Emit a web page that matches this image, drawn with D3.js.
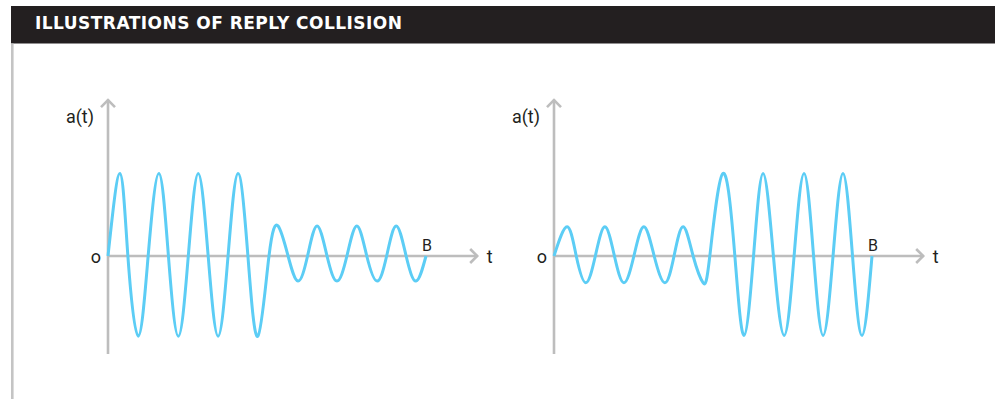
<!DOCTYPE html>
<html>
<head>
<meta charset="utf-8">
<script src="https://cdn.jsdelivr.net/npm/d3@7"></script>
<style>
  body { margin: 0; background: #fff; }
  svg { display: block; }
  .lbl { font-family: Roboto, "Open Sans", sans-serif; }
  .title { font-family: "DejaVu Sans", sans-serif; font-weight: 700; }
</style>
</head>
<body>
<svg id="chart" width="995" height="399"></svg>
<script>
const title = "ILLUSTRATIONS OF REPLY COLLISION";

// wave extrema and zero crossings: [t (cycles), amplitude]
const leftWave = [
  [0, 0], [0.3, 1.02], [0.5, 0], [0.76, -0.99], [1.01, 0], [1.28, 1.02], [1.52, 0], [1.77, -0.99],
  [2.02, 0], [2.27, 1.02], [2.52, 0], [2.77, -0.99], [3.02, 0], [3.27, 1.02], [3.52, 0], [3.77, -0.99],
  [4.05, 0], [4.28, 0.37], [4.53, 0], [4.78, -0.31], [5.02, 0], [5.26, 0.37], [5.51, 0], [5.76, -0.31],
  [6.01, 0], [6.26, 0.37], [6.51, 0], [6.77, -0.31], [7.01, 0], [7.25, 0.37], [7.5, 0], [7.75, -0.31],
  [8, 0]
];
const rightWave = [
  [0, 0], [0.33, 0.36], [0.56, 0], [0.8, -0.33], [1.04, 0], [1.28, 0.36], [1.52, 0], [1.76, -0.33],
  [2.01, 0], [2.26, 0.36], [2.52, 0], [2.79, -0.33], [3.02, 0], [3.25, 0.36], [3.5, 0], [3.75, -0.33],
  [3.92, 0], [4.25, 1.02], [4.55, 0], [4.78, -0.98], [5.02, 0], [5.26, 1.02], [5.52, 0], [5.79, -0.98],
  [6.04, 0], [6.29, 1.02], [6.53, 0], [6.77, -0.98], [7.02, 0], [7.27, 1.02], [7.51, 0], [7.75, -0.98],
  [8, 0]
];
const panels = [
  { wave: leftWave, left: 108 },
  { wave: rightWave, left: 554 }
];
const tExtent = [0, 9.3];   // x axis runs past the wave to the arrow
const aExtent = [-1.21, 1.93];

const svg = d3.select("#chart");
const axisColor = "#bdbdbd";
const textColor = "#231f20";

// header bar
svg.append("rect")
  .attr("x", 11).attr("y", 6)
  .attr("width", 984).attr("height", 37.5)
  .attr("fill", "#231f20");
const titleText = svg.append("text")
  .attr("class", "title")
  .attr("x", 35).attr("y", 29)
  .attr("fill", "#fff")
  .style("font-size", "17px")
  .text(title);
// fit the letters to the width seen in the picture
const titleW = titleText.node().getComputedTextLength();
titleText.style("letter-spacing", ((367 - titleW) / (title.length - 1)) + "px");

// left rule
svg.append("line")
  .attr("x1", 12.3).attr("x2", 12.3)
  .attr("y1", 43.5).attr("y2", 399)
  .attr("stroke", "#c4c4c4").attr("stroke-width", 2.6);

const y = d3.scaleLinear().domain([-1, 1]).range([337, 175]);

panels.forEach(p => {
  const x = d3.scaleLinear().domain([0, 8]).range([p.left, p.left + 318]);
  const g = svg.append("g");

  // y axis + arrow
  g.append("line")
    .attr("x1", x(0)).attr("x2", x(0))
    .attr("y1", y(aExtent[0])).attr("y2", y(aExtent[1]))
    .attr("stroke", axisColor).attr("stroke-width", 2.6);
  g.append("path")
    .attr("d", `M${x(0) - 7},${y(aExtent[1]) + 7.5}L${x(0)},${y(aExtent[1]) + 0.5}L${x(0) + 7},${y(aExtent[1]) + 7.5}`)
    .attr("fill", "none").attr("stroke", axisColor).attr("stroke-width", 2.6);

  // x axis + arrow
  g.append("line")
    .attr("x1", x(0)).attr("x2", x(tExtent[1]))
    .attr("y1", y(0)).attr("y2", y(0))
    .attr("stroke", axisColor).attr("stroke-width", 2.6);
  g.append("path")
    .attr("d", `M${x(tExtent[1]) - 7.5},${y(0) - 7}L${x(tExtent[1]) - 0.5},${y(0)}L${x(tExtent[1]) - 7.5},${y(0) + 7}`)
    .attr("fill", "none").attr("stroke", axisColor).attr("stroke-width", 2.6);

  // wave
  const line = d3.line()
    .x(d => x(d[0]))
    .y(d => y(d[1]))
    .curve(d3.curveNatural);
  g.append("path")
    .datum(p.wave)
    .attr("d", line)
    .attr("fill", "none")
    .attr("stroke", "#5ccdf5")
    .attr("stroke-width", 3);

  // labels
  g.append("text")
    .attr("class", "lbl")
    .attr("x", x(0) - 14).attr("y", 123)
    .attr("text-anchor", "end")
    .attr("font-size", 18).attr("fill", textColor)
    .text("a(t)");
  g.append("text")
    .attr("class", "lbl")
    .attr("x", x(0) - 7).attr("y", 263)
    .attr("text-anchor", "end")
    .attr("font-size", 18).attr("fill", textColor)
    .text("o");
  g.append("text")
    .attr("class", "lbl")
    .attr("x", x(tExtent[1]) + 9).attr("y", 263)
    .attr("font-size", 18).attr("fill", textColor)
    .text("t");
  const last = p.wave[p.wave.length - 1];
  g.append("text")
    .attr("class", "lbl")
    .attr("x", x(last[0]) + 1).attr("y", 251)
    .attr("text-anchor", "middle")
    .attr("font-size", 16).attr("fill", textColor)
    .text("B");
});
</script>
</body>
</html>
